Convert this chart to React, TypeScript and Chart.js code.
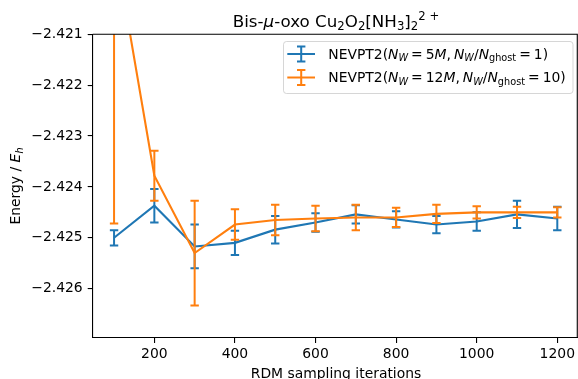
import React, { useEffect, useRef } from "react";
import { Chart, registerables } from "chart.js";

Chart.register(...registerables);

const xValues = [100, 200, 300, 400, 500, 600, 700, 800, 900, 1000, 1100, 1200];
const blueY = [-2.425, -2.42437, -2.42517, -2.4251, -2.42484, -2.4247, -2.42454, -2.42464, -2.42474, -2.42468, -2.42454, -2.42462];
const blueErr = [0.00015, 0.00033, 0.00043, 0.00024, 0.00027, 0.00018, 0.00018, 0.00016, 0.00017, 0.00018, 0.00027, 0.00023];
const orangeY = [-2.41916, -2.42378, -2.4253, -2.42474, -2.42465, -2.42462, -2.4246, -2.4246, -2.42453, -2.4245, -2.4245, -2.4245];
const orangeErr = [0.00556, 0.00049, 0.00103, 0.0003, 0.0003, 0.00025, 0.00025, 0.00019, 0.00018, 0.00012, 0.00011, 0.0001];
const yTicks = [-2.421, -2.422, -2.423, -2.424, -2.425, -2.426];
const xTicks = [200, 400, 600, 800, 1000, 1200];

const BLUE = "#1f77b4";
const ORANGE = "#ff7f0e";
const FAMILY = "'DejaVu Sans', sans-serif";
const errs = [blueErr, orangeErr];
const ys = [blueY, orangeY];

type Seg = { t: string; it?: boolean; sub?: boolean; sup?: boolean; sp?: number };

function segFont(s: Seg, size: number) {
  const sz = s.sub || s.sup ? size * 0.7 : size;
  return `${s.it ? "italic " : ""}${sz}px ${FAMILY}`;
}

function segWidth(ctx: CanvasRenderingContext2D, s: Seg, size: number) {
  if (s.sp !== undefined) return s.sp;
  ctx.font = segFont(s, size);
  return ctx.measureText(s.t).width;
}

function drawRich(ctx: CanvasRenderingContext2D, segs: Seg[], x: number, y: number, size: number, align: "left" | "center") {
  let total = 0;
  for (const s of segs) total += segWidth(ctx, s, size);
  let cx = align === "center" ? x - total / 2 : x;
  ctx.textBaseline = "alphabetic";
  ctx.textAlign = "left";
  for (const s of segs) {
    if (s.sp === undefined) {
      ctx.font = segFont(s, size);
      const dy = s.sub ? size * 0.2 : s.sup ? -size * 0.42 : 0;
      ctx.fillText(s.t, cx, y + dy);
    }
    cx += segWidth(ctx, s, size);
  }
}

const GAP = 3.0;
const titleSegs: Seg[] = [
  { t: "Bis-" }, { t: "μ", it: true }, { t: "-oxo Cu" }, { t: "2", sub: true }, { t: "O" }, { t: "2", sub: true },
  { t: "[NH" }, { t: "3", sub: true }, { t: "]" }, { t: "2", sub: true }, { t: "2 +", sup: true },
];
function legendSegs(nw: string, ratio: string): Seg[] {
  return [
    { t: "NEVPT2(" }, { t: "N", it: true }, { t: "W", it: true, sub: true }, { t: "", sp: GAP }, { t: "=" }, { t: "", sp: GAP },
    { t: nw }, { t: "M", it: true }, { t: "," }, { t: "", sp: GAP }, { t: "N", it: true }, { t: "W", it: true, sub: true },
    { t: "/" }, { t: "N", it: true }, { t: "ghost", sub: true }, { t: "", sp: GAP }, { t: "=" }, { t: "", sp: GAP }, { t: ratio + ")" },
  ];
}
const legend1 = legendSegs("5", "1");
const legend2 = legendSegs("12", "10");
const yLabel: Seg[] = [{ t: "Energy / " }, { t: "E", it: true }, { t: "h", it: true, sub: true }];

function drawErrSymbol(ctx: CanvasRenderingContext2D, x: number, yTop: number, yBot: number, color: string) {
  ctx.strokeStyle = color;
  ctx.lineWidth = 2;
  ctx.beginPath();
  ctx.moveTo(x, yTop);
  ctx.lineTo(x, yBot);
  ctx.moveTo(x - 4.2, yTop);
  ctx.lineTo(x + 4.2, yTop);
  ctx.moveTo(x - 4.2, yBot);
  ctx.lineTo(x + 4.2, yBot);
  ctx.stroke();
}

const errPlugin = {
  id: "errbars",
  beforeDatasetDraw(chart: any, args: any) {
    const { ctx, chartArea, scales } = chart;
    const idx = args.index;
    const color = idx === 0 ? BLUE : ORANGE;
    ctx.save();
    ctx.beginPath();
    ctx.rect(chartArea.left, chartArea.top, chartArea.right - chartArea.left, chartArea.bottom - chartArea.top);
    ctx.clip();
    xValues.forEach((xv, i) => {
      const x = scales.x.getPixelForValue(xv);
      const yT = scales.y.getPixelForValue(ys[idx][i] + errs[idx][i]);
      const yB = scales.y.getPixelForValue(ys[idx][i] - errs[idx][i]);
      drawErrSymbol(ctx, x, yT, yB, color);
    });
    ctx.restore();
  },
  afterDraw(chart: any) {
    const { ctx, chartArea } = chart;
    ctx.save();
    ctx.strokeStyle = "#000";
    ctx.lineWidth = 1.1;
    ctx.beginPath();
    ctx.moveTo(chartArea.left, chartArea.top);
    ctx.lineTo(chartArea.right, chartArea.top);
    ctx.lineTo(chartArea.right, chartArea.bottom);
    ctx.stroke();
    ctx.fillStyle = "#000";
    drawRich(ctx, titleSegs, 336, 26.7, 16.7, "center");
    drawRich(ctx, [{ t: "RDM sampling iterations" }], 336, 377.7, 13.9, "center");
    ctx.save();
    ctx.translate(20, 186);
    ctx.rotate(-Math.PI / 2);
    drawRich(ctx, yLabel, 0, 0, 13.9, "center");
    ctx.restore();
    const lx = 283.5, ly = 41.5, lw = 289.5, lh = 52;
    ctx.beginPath();
    (ctx as any).roundRect(lx, ly, lw, lh, 3);
    ctx.fillStyle = "rgba(255,255,255,0.8)";
    ctx.fill();
    ctx.strokeStyle = "rgba(204,204,204,0.8)";
    ctx.lineWidth = 1;
    ctx.stroke();
    const rows = [
      { y: 54, c: BLUE, s: legend1 },
      { y: 77.5, c: ORANGE, s: legend2 },
    ];
    for (const r of rows) {
      ctx.strokeStyle = r.c;
      ctx.lineWidth = 2;
      ctx.beginPath();
      ctx.moveTo(287.3, r.y);
      ctx.lineTo(315, r.y);
      ctx.stroke();
      drawErrSymbol(ctx, 301.2, r.y - 7.5, r.y + 7.5, r.c);
      ctx.fillStyle = "#000";
      drawRich(ctx, r.s, 328.3, r.y + 4.5, 13.9, "left");
    }
    ctx.restore();
  },
};

export default function App() {
  const ref = useRef<HTMLCanvasElement | null>(null);
  useEffect(() => {
    if (!ref.current) return;
    const chart = new Chart(ref.current, {
      type: "line",
      data: {
        datasets: [
          {
            label: "blue",
            data: xValues.map((x, i) => ({ x, y: blueY[i] })),
            borderColor: BLUE,
            borderWidth: 2.1,
            pointRadius: 0,
            tension: 0,
            order: 2,
          },
          {
            label: "orange",
            data: xValues.map((x, i) => ({ x, y: orangeY[i] })),
            borderColor: ORANGE,
            borderWidth: 2.1,
            pointRadius: 0,
            tension: 0,
            order: 1,
          },
        ],
      },
      options: {
        animation: false,
        responsive: false,
        events: [],
        layout: { padding: { top: 34.3, left: 0, right: 0.7, bottom: 0 } },
        plugins: { legend: { display: false }, tooltip: { enabled: false }, title: { display: false } },
        scales: {
          x: {
            type: "linear",
            min: 47,
            max: 1249.6,
            afterBuildTicks: (s: any) => {
              s.ticks = xTicks.map((v) => ({ value: v }));
            },
            afterFit: (s: any) => {
              s.height = 41;
            },
            grid: { display: true, drawOnChartArea: false, drawTicks: true, tickLength: 5, color: "#000", lineWidth: 1.1 },
            border: { display: true, color: "#000", width: 1.1 },
            ticks: {
              autoSkip: false,
              maxRotation: 0,
              padding: 3,
              color: "#000",
              font: { family: FAMILY, size: 13.9 },
              callback: (v: any) => String(v),
            },
          },
          y: {
            type: "linear",
            min: -2.42697,
            max: -2.421,
            afterBuildTicks: (s: any) => {
              s.ticks = yTicks.map((v) => ({ value: v }));
            },
            afterFit: (s: any) => {
              s.width = 92.7;
            },
            grid: { display: true, drawOnChartArea: false, drawTicks: true, tickLength: 5, color: "#000", lineWidth: 1.1 },
            border: { display: true, color: "#000", width: 1.1 },
            ticks: {
              autoSkip: false,
              padding: 5,
              color: "#000",
              font: { family: FAMILY, size: 13.9 },
              callback: (v: any) => "\u2212" + Math.abs(Number(v)).toFixed(3),
            },
          },
        },
      },
      plugins: [errPlugin],
    } as any);
    return () => chart.destroy();
  }, []);
  return (
    <div style={{ position: "fixed", left: 0, top: 0, width: 578, height: 379, overflow: "hidden", background: "#fff" }}>
      <canvas ref={ref} width={578} height={379} style={{ width: 578, height: 379, display: "block" }} />
    </div>
  );
}
